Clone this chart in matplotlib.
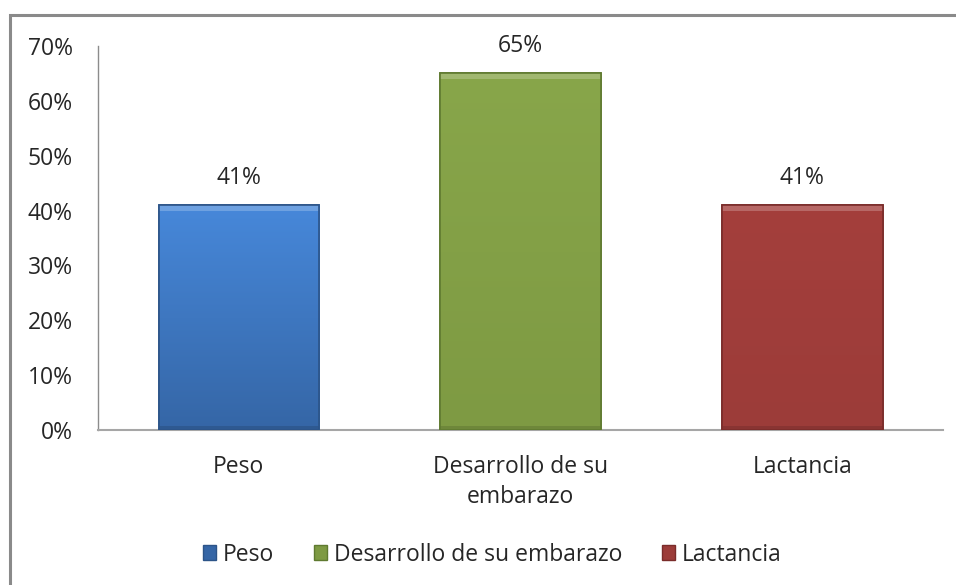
import matplotlib
matplotlib.use("Agg")
import matplotlib.pyplot as plt
import numpy as np
from matplotlib.patches import Rectangle, Patch
from matplotlib.colors import LinearSegmentedColormap

categories = ["Peso", "Desarrollo de su\nembarazo", "Lactancia"]
legend_labels = ["Peso", "Desarrollo de su embarazo", "Lactancia"]
values = [41, 65, 41]
yticks = [0, 10, 20, 30, 40, 50, 60, 70]

top_colors = ["#4788da", "#88a64a", "#a43f3c"]
bot_colors = ["#3566a6", "#7e9a43", "#9c3c39"]
edge_colors = ["#2c5488", "#5f7a30", "#7a2c2a"]

plt.rcParams['font.family'] = ['Open Sans', 'DejaVu Sans']
FS = 16.5

fig = plt.figure(figsize=(9.56, 5.85), dpi=100)
ax = fig.add_axes([0.1025, 0.265, 0.884, 0.6565])

# outer frame
fig.patches.append(Rectangle((0.0105, -0.05), 1.05, 0.024 + 1.0, transform=fig.transFigure,
                             fill=False, edgecolor="#8a8a8a", linewidth=2.2, zorder=0))

x = np.arange(len(values))
bars = ax.bar(x, values, width=0.57, color=top_colors, edgecolor=edge_colors,
              linewidth=1.2, zorder=3)

for b, tc, bc in zip(bars, top_colors, bot_colors):
    cmap = LinearSegmentedColormap.from_list("g", [bc, tc])
    grad = np.linspace(0, 1, 256).reshape(-1, 1)
    bx, by = b.get_x(), b.get_y()
    w, h = b.get_width(), b.get_height()
    im = ax.imshow(grad, cmap=cmap, origin="lower", aspect="auto",
                   extent=[bx, bx + w, by, by + h], zorder=3.5)
    im.set_clip_path(b)
    # top bevel highlight
    ax.add_patch(Rectangle((bx, by + h - 1.0), w, 1.0, facecolor="white", alpha=0.22,
                           edgecolor="none", zorder=3.6))
    # bottom bevel shade
    ax.add_patch(Rectangle((bx, by), w, 0.8, facecolor="black", alpha=0.12,
                           edgecolor="none", zorder=3.6))
    ax.add_patch(Rectangle((bx, by), w, h, fill=False, edgecolor=b.get_edgecolor(),
                           linewidth=1.2, zorder=3.7))

for b, v in zip(bars, values):
    ax.annotate(f"{v}%", (b.get_x() + b.get_width() / 2, v), xytext=(0, 11),
                textcoords="offset points", ha="center", va="bottom",
                fontsize=FS, color="#262626")

ax.set_xlim(-0.5, 2.5)
ax.set_ylim(0, 70)
ax.set_yticks(yticks)
ax.set_yticklabels([f"{t}%" for t in yticks])
ax.set_xticks(x)
ax.set_xticklabels(categories, linespacing=1.35)
ax.tick_params(axis="both", length=0, labelsize=FS, colors="#262626")
ax.tick_params(axis="x", pad=18)
ax.tick_params(axis="y", pad=18)
for s in ["top", "right"]:
    ax.spines[s].set_visible(False)
ax.spines["left"].set_color("#8c8c8c")
ax.spines["bottom"].set_color("#a6a6a6")
ax.spines["left"].set_linewidth(1.0)
ax.spines["bottom"].set_linewidth(1.5)

handles = [Patch(facecolor=c, edgecolor=e, label=l)
           for c, e, l in zip(bot_colors, edge_colors, legend_labels)]
fig.legend(handles=handles, loc="center", bbox_to_anchor=(0.515, 0.052), ncol=3,
           frameon=False, fontsize=FS, handlelength=0.55, handleheight=0.6,
           handletextpad=0.3, columnspacing=1.75, labelcolor="#262626")

fig.savefig("out.png", dpi=100)
